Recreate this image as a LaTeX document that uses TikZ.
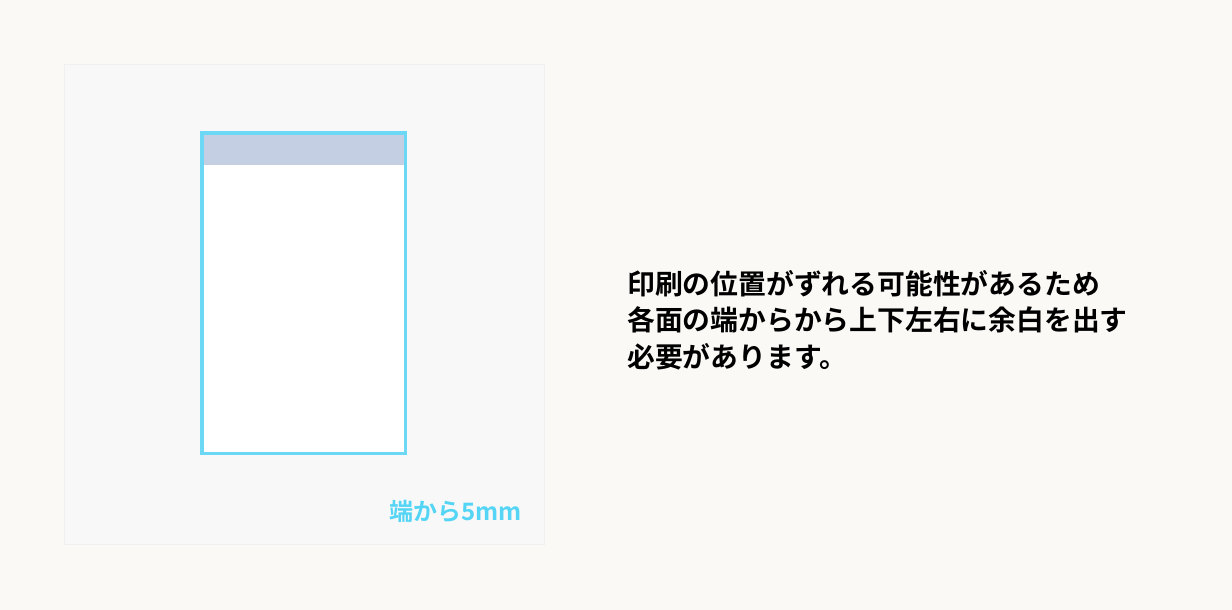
\documentclass[tikz,border=0pt]{standalone}
\usepackage{fontspec}
\newfontfamily\cjk{Noto Sans CJK JP}[BoldFont={Noto Sans CJK JP Bold}]
\definecolor{bgc}{HTML}{FAF9F6}
\definecolor{panelc}{HTML}{F8F8F8}
\definecolor{panelb}{HTML}{F0F0F0}
\definecolor{paperb}{HTML}{6DD8F5}
\definecolor{headc}{HTML}{C4CFE3}
\definecolor{labc}{HTML}{55D5F5}
\tikzset{
  panel/.style={fill=panelc, draw=panelb, line width=1pt},
  paper/.style={draw=paperb, line width=3.5pt},
  bodytext/.style={font=\cjk\bfseries\fontsize{27.8}{36.5}\selectfont, text=black, align=left, inner sep=0pt, anchor=north west},
  labeltext/.style={font=\cjk\bfseries\fontsize{24}{26}\selectfont, text=labc, inner sep=0pt, anchor=east}
}
\begin{document}
\begin{tikzpicture}[x=1pt,y=-1pt]
\fill[bgc] (0,0) rectangle (1232,610);
\useasboundingbox (0,0) rectangle (1232,610);
\draw[panel] (64.5,64.5) rectangle (544.5,544.5);
\fill[white] (202,133) rectangle (405,453);
\fill[headc] (202,133) rectangle (405,165);
\draw[paper] (201.75,132.75) rectangle (405.25,453.25);
\node[labeltext] (lab) at (522,511) {端から5mm};
\node[bodytext] (txt) at (627,270) {印刷の位置がずれる可能性があるため\\各面の端からから上下左右に余白を出す\\必要があります。};
\end{tikzpicture}
\end{document}
